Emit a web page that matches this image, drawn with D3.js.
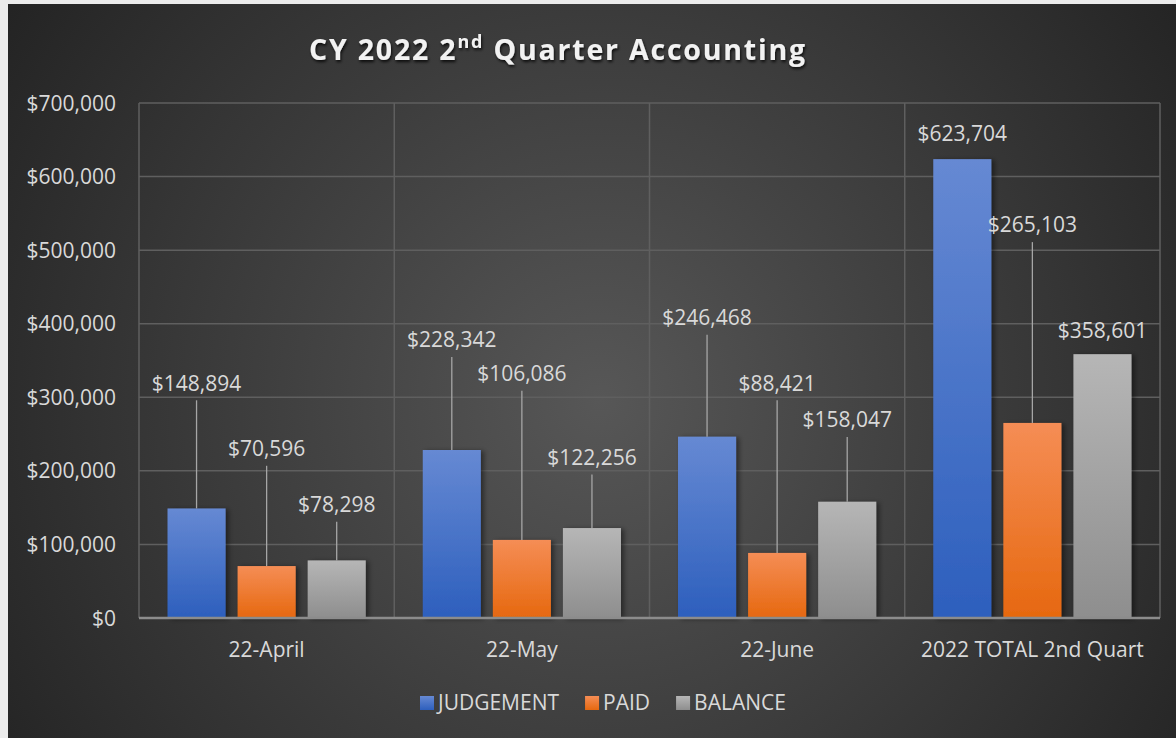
<!DOCTYPE html>
<html><head><meta charset="utf-8">
<script src="https://cdn.jsdelivr.net/npm/d3@7"></script>
<style>
body{margin:0;background:#ececec;overflow:hidden}
svg{display:block}
text{font-family:"Open Sans","Noto Sans",sans-serif;fill:#d9d9d9}
</style></head>
<body><svg id="chart" width="1176" height="738"></svg>
<script>
const categories = ["22-April", "22-May", "22-June", "2022 TOTAL 2nd Quart"];
const seriesNames = ["JUDGEMENT", "PAID", "BALANCE"];
const judgement = [148894, 228342, 246468, 623704];
const paid = [70596, 106086, 88421, 265103];
const balance = [78298, 122256, 158047, 358601];
const yTicks = [0, 100000, 200000, 300000, 400000, 500000, 600000, 700000];
// where each data callout sits, in data units
const judgementLabelAt = [319000, 378000, 408000, 659000];
const paidLabelAt = [230000, 332000, 319000, 534000];
const balanceLabelAt = [154000, 218000, 269000, 391000];

const seriesValues = [judgement, paid, balance];
const labelAt = [judgementLabelAt, paidLabelAt, balanceLabelAt];
const colors = [["#6689d3", "#2d5fbd"], ["#f58d55", "#e6680f"], ["#b6b6b6", "#8e8e8e"]];

const svg = d3.select("#chart");
const W = 1176, H = 738;
const plot = {left: 139, right: 1160, top: 103, bottom: 618};

const defs = svg.append("defs");
const bg = defs.append("radialGradient").attr("id", "bg")
  .attr("gradientUnits", "userSpaceOnUse").attr("cx", 600).attr("cy", 400).attr("r", 720);
bg.append("stop").attr("offset", 0).attr("stop-color", "#575757");
bg.append("stop").attr("offset", 1).attr("stop-color", "#232323");
colors.forEach((c, i) => {
  const g = defs.append("linearGradient").attr("id", "g" + i).attr("x1", 0).attr("y1", 0).attr("x2", 0).attr("y2", 1);
  g.append("stop").attr("offset", 0).attr("stop-color", c[0]);
  g.append("stop").attr("offset", 1).attr("stop-color", c[1]);
});
const sh = defs.append("filter").attr("id", "sh").attr("x", "-20%").attr("y", "-20%").attr("width", "150%").attr("height", "140%");
sh.append("feDropShadow").attr("dx", 3).attr("dy", 1).attr("stdDeviation", 2.5).attr("flood-color", "#000").attr("flood-opacity", 0.45);
const tsh = defs.append("filter").attr("id", "tsh").attr("x", "-10%").attr("y", "-30%").attr("width", "120%").attr("height", "160%");
tsh.append("feDropShadow").attr("dx", 1).attr("dy", 2).attr("stdDeviation", 1.5).attr("flood-color", "#000").attr("flood-opacity", 0.8);

svg.append("rect").attr("x", 8).attr("y", 4).attr("width", W - 8).attr("height", H - 4).attr("fill", "url(#bg)");

const x0 = d3.scaleBand().domain(categories).range([plot.left, plot.right]).padding(0);
const x1 = d3.scaleBand().domain(seriesNames).range([0, x0.bandwidth()]).paddingInner(12 / 70).paddingOuter(0.407);
const y = d3.scaleLinear().domain([0, 700000]).range([plot.bottom, plot.top]);

// gridlines
const grid = svg.append("g");
grid.selectAll(".h").data(yTicks.filter(d => d > 0)).join("line")
  .attr("x1", plot.left).attr("x2", plot.right).attr("y1", d => y(d)).attr("y2", d => y(d))
  .attr("stroke", "#5f5f5f").attr("stroke-width", 1.5);
const vEdges = categories.map(c => x0(c)).concat([plot.right]);
grid.selectAll(".v").data(vEdges).join("line")
  .attr("x1", d => d).attr("x2", d => d).attr("y1", plot.top).attr("y2", plot.bottom)
  .attr("stroke", "#5f5f5f").attr("stroke-width", 1.5);

// y axis
const yAxis = d3.axisLeft(y).tickValues(yTicks).tickSize(0).tickPadding(23)
  .tickFormat(d => "$" + d3.format(",")(d));
const ya = svg.append("g").attr("transform", `translate(${plot.left},0)`).call(yAxis);
ya.select(".domain").remove();
ya.selectAll("text").attr("font-size", 21).attr("fill", "#d9d9d9").attr("dy", "0.34em");

// bars
const groups = svg.append("g").selectAll("g").data(categories).join("g")
  .attr("transform", c => `translate(${x0(c)},0)`);
groups.each(function(c, ci) {
  const g = d3.select(this);
  seriesNames.forEach((s, si) => {
    const v = seriesValues[si][ci];
    g.append("rect").attr("x", x1(s)).attr("width", x1.bandwidth())
      .attr("y", y(v)).attr("height", y(0) - y(v))
      .attr("fill", `url(#g${si})`).attr("filter", "url(#sh)");
  });
});

// baseline
svg.append("line").attr("x1", plot.left).attr("x2", plot.right).attr("y1", y(0)).attr("y2", y(0))
  .attr("stroke", "#8c8c8c").attr("stroke-width", 2.5);

// callouts
const cl = svg.append("g");
categories.forEach((c, ci) => {
  seriesNames.forEach((s, si) => {
    const v = seriesValues[si][ci];
    const cx = x0(c) + x1(s) + x1.bandwidth() / 2;
    const ly = y(labelAt[si][ci]);
    if (y(v) - ly > 40) {
      cl.append("line").attr("x1", cx).attr("x2", cx).attr("y1", ly + 17).attr("y2", y(v))
        .attr("stroke", "#a6a6a6").attr("stroke-width", 1.3);
    }
    cl.append("text").attr("x", cx).attr("y", ly).attr("dy", "0.35em")
      .attr("text-anchor", "middle").attr("font-size", 21)
      .text("$" + d3.format(",")(v));
  });
});

// x axis labels
svg.append("g").selectAll("text").data(categories).join("text")
  .attr("x", c => x0(c) + x0.bandwidth() / 2).attr("y", 650).attr("dy", "0.35em")
  .attr("text-anchor", "middle").attr("font-size", 21).text(c => c);

// title
const title = svg.append("text").attr("x", 558).attr("y", 60).attr("text-anchor", "middle")
  .attr("font-size", 28.5).attr("font-weight", 700).attr("letter-spacing", 1.8)
  .style("fill", "#f2f2f2").attr("filter", "url(#tsh)");
title.append("tspan").text("CY 2022 2");
title.append("tspan").attr("dy", -12).attr("font-size", 18).text("nd");
title.append("tspan").attr("dy", 12).text(" Quarter Accounting");

// legend
const leg = svg.append("g");
let lx = 420;
seriesNames.forEach((s, si) => {
  leg.append("rect").attr("x", lx).attr("y", 696).attr("width", 14).attr("height", 14)
    .attr("fill", `url(#g${si})`);
  const t = leg.append("text").attr("x", lx + 18).attr("y", 703).attr("dy", "0.35em")
    .attr("font-size", 21).text(s);
  lx += 18 + t.node().getComputedTextLength() + 26;
});
</script>
</body></html>
